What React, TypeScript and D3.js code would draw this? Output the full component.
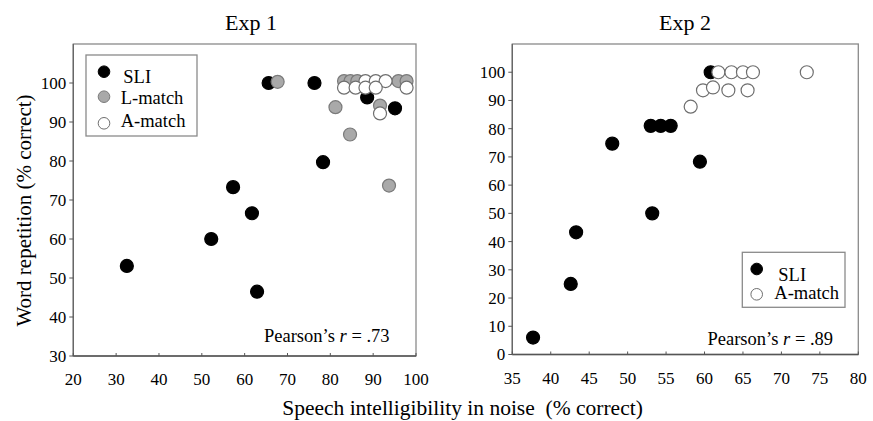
import React from "react";
import * as d3 from "d3";

const exp1SliX = [32.5, 52.2, 57.3, 61.7, 62.9, 65.6, 76.3, 78.3, 88.6, 95.1];
const exp1SliY = [53.1, 60.0, 73.3, 66.6, 46.5, 100.0, 100.0, 79.7, 96.3, 93.5];
const exp1LX = [67.7, 81.2, 84.6, 93.7, 91.6, 83.2, 84.7, 86.3, 95.9, 97.8];
const exp1LY = [100.3, 93.8, 86.8, 73.7, 94.2, 100.5, 100.5, 100.5, 100.5, 100.5];
const exp1AX = [88.2, 90.6, 92.9, 83.2, 85.9, 88.2, 90.6, 97.8, 91.6];
const exp1AY = [100.5, 100.5, 100.5, 98.8, 98.8, 98.8, 98.8, 98.8, 92.2];

const exp2SliX = [37.7, 42.6, 43.3, 48.0, 53.0, 54.3, 55.6, 53.2, 59.4, 60.8];
const exp2SliY = [6, 25, 43.3, 74.7, 81, 81, 81, 50, 68.3, 100];
const exp2AX = [58.2, 59.8, 61.1, 61.8, 63.5, 65.0, 66.3, 63.1, 65.6, 73.3];
const exp2AY = [87.8, 93.6, 94.6, 100, 100, 100, 100, 93.6, 93.6, 100];

const exp1XTicks = [20, 30, 40, 50, 60, 70, 80, 90, 100];
const exp1YTicks = [30, 40, 50, 60, 70, 80, 90, 100];
const exp2XTicks = [35, 40, 45, 50, 55, 60, 65, 70, 75, 80];
const exp2YTicks = [0, 10, 20, 30, 40, 50, 60, 70, 80, 90, 100];

const FONT = "'Liberation Serif', 'Times New Roman', serif";

const styles: Record<string, { fill: string; stroke: string }> = {
  sli: { fill: "#000", stroke: "#000" },
  l: { fill: "#a9a9a9", stroke: "#7a7a7a" },
  a: { fill: "#fff", stroke: "#6e6e6e" },
};

type Series = { key: string; xs: number[]; ys: number[] };

function Panel(props: {
  left: number; right: number; top: number; bottom: number;
  xDomain: [number, number]; yDomain: [number, number];
  xTicks: number[]; yTicks: number[]; series: Series[];
  title: string; titleX: number; pearson: string; pearsonX: number; pearsonY: number;
  legend: { key: string; label: string; tx: number; ty: number; my: number }[];
  legendBox: [number, number, number, number]; legendMarkerX: number;
  xLabelY: number;
}) {
  const x = d3.scaleLinear().domain(props.xDomain).range([props.left, props.right]);
  const y = d3.scaleLinear().domain(props.yDomain).range([props.bottom, props.top]);
  const [lx, ly, lw, lh] = props.legendBox;
  return (
    <g>
      <text x={props.titleX} y={30} textAnchor="middle" fontSize={22} fontFamily={FONT}>{props.title}</text>
      <rect x={props.left} y={props.top} width={props.right - props.left} height={props.bottom - props.top}
        fill="#fff" stroke="#8a8a8a" strokeWidth={1.3} />
      <line x1={props.left} x2={props.right} y1={props.bottom} y2={props.bottom} stroke="#555" strokeWidth={1.3} />
      <line x1={props.left} x2={props.left} y1={props.top} y2={props.bottom} stroke="#666" strokeWidth={1.3} />
      {props.yTicks.map((t) => (
        <g key={"y" + t}>
          <line x1={props.left - 4} x2={props.left} y1={y(t)} y2={y(t)} stroke="#555" />
          <text x={props.left - 7} y={y(t)} dy="0.35em" textAnchor="end" fontSize={17} fontFamily={FONT}>{t}</text>
        </g>
      ))}
      {props.xTicks.map((t) => (
        <g key={"x" + t}>
          <line x1={x(t)} x2={x(t)} y1={props.bottom - 3} y2={props.bottom} stroke="#555" />
          <text x={x(t)} y={props.xLabelY} textAnchor="middle" fontSize={17} fontFamily={FONT}>{t}</text>
        </g>
      ))}
      {props.series.map((s) =>
        s.xs.map((v, i) => (
          <circle key={s.key + i} cx={x(v)} cy={y(s.ys[i])} r={6.5}
            fill={styles[s.key].fill} stroke={styles[s.key].stroke} strokeWidth={1.2} />
        ))
      )}
      <rect x={lx} y={ly} width={lw} height={lh} fill="#fff" stroke="#8a8a8a" strokeWidth={1.3} />
      {props.legend.map((e) => (
        <g key={"lg" + e.key}>
          <circle cx={props.legendMarkerX} cy={e.my} r={5.8}
            fill={styles[e.key].fill} stroke={styles[e.key].stroke} strokeWidth={1} />
          <text x={e.tx} y={e.ty} fontSize={18.5} fontFamily={FONT}>{e.label}</text>
        </g>
      ))}
      <text x={props.pearsonX} y={props.pearsonY} fontSize={18.5} fontFamily={FONT}>
        Pearson’s <tspan fontStyle="italic">r</tspan> = {props.pearson}
      </text>
    </g>
  );
}

export default function App() {
  return (
    <svg width={873} height={421} style={{ position: "absolute", left: 0, top: 0, background: "#fff" }}>
      <Panel left={73.3} right={416} top={44} bottom={356}
        xDomain={[20, 100]} yDomain={[30, 110]} xTicks={exp1XTicks} yTicks={exp1YTicks}
        series={[
          { key: "sli", xs: exp1SliX, ys: exp1SliY },
          { key: "l", xs: exp1LX, ys: exp1LY },
          { key: "a", xs: exp1AX, ys: exp1AY },
        ]}
        title="Exp 1" titleX={251} pearson=".73" pearsonX={264} pearsonY={342}
        legendBox={[86, 55, 111, 81]} legendMarkerX={104}
        legend={[
          { key: "sli", label: "SLI", tx: 123.3, ty: 82.5, my: 71.7 },
          { key: "l", label: "L-match", tx: 120.7, ty: 103.5, my: 96.7 },
          { key: "a", label: "A-match", tx: 120.7, ty: 126.5, my: 123.3 },
        ]}
        xLabelY={385}
      />
      <Panel left={512.3} right={858.3} top={44} bottom={354.5}
        xDomain={[35, 80]} yDomain={[0, 110]} xTicks={exp2XTicks} yTicks={exp2YTicks}
        series={[
          { key: "sli", xs: exp2SliX, ys: exp2SliY },
          { key: "a", xs: exp2AX, ys: exp2AY },
        ]}
        title="Exp 2" titleX={685} pearson=".89" pearsonX={707.5} pearsonY={345}
        legendBox={[742.3, 252.3, 102.7, 55]} legendMarkerX={756.7}
        legend={[
          { key: "sli", label: "SLI", tx: 778.3, ty: 280.5, my: 269 },
          { key: "a", label: "A-match", tx: 774.3, ty: 299, my: 294.3 },
        ]}
        xLabelY={384}
      />
      <text x={462.5} y={415} textAnchor="middle" fontSize={21.5} fontFamily={FONT}>
        {"Speech intelligibility in noise\u00a0 (% correct)"}
      </text>
      <text transform="translate(31,210.5) rotate(-90)" textAnchor="middle" fontSize={21} fontFamily={FONT}>
        Word repetition (% correct)
      </text>
    </svg>
  );
}
